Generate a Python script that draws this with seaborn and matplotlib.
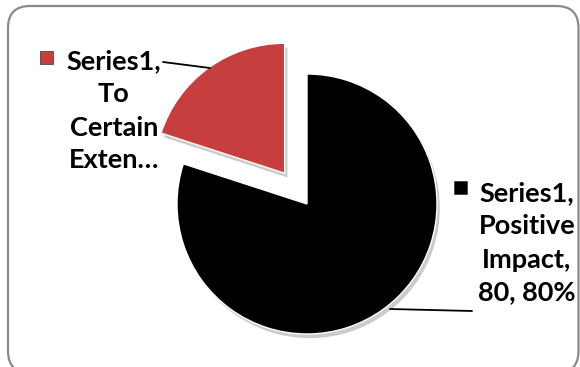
import matplotlib
matplotlib.use("Agg")
import matplotlib.pyplot as plt
import matplotlib.patheffects as pe
from matplotlib.patches import FancyBboxPatch, Rectangle
import seaborn as sns

# Survey responses (Series1)
categories = ["To Certain Extent", "Positive Impact"]
values = [20, 80]
short_labels = ["Series1,\nTo\nCertain\nExten\u2026", "Series1,\nPositive\nImpact,\n80, 80%"]
colors = ["#C63E3D", "#000000"]

sns.set_theme(style="white")
plt.rcParams["font.family"] = ["Lato", "DejaVu Sans"]

W, H = 580, 367
fig = plt.figure(figsize=(W / 100, H / 100), dpi=100)
ax = fig.add_axes([0, 0, 1, 1])

# rounded chart frame (bottom edge runs just past the canvas)
frame = FancyBboxPatch((8, -6), 570.5, 367, boxstyle="round,pad=0,rounding_size=22",
                       facecolor="white", edgecolor="#8a8a8a", linewidth=1.6, zorder=0)
ax.add_patch(frame)

center = (307, 163)
radius = 130
wedges, _ = ax.pie(values, colors=colors, startangle=90, counterclock=True,
                   explode=[38, 0], center=center, radius=radius, frame=True)
for w in wedges:
    w.set_zorder(2)
    w.set_path_effects([pe.SimplePatchShadow(offset=(2, -3), alpha=0.3, shadow_rgbFace="#555555"),
                        pe.Normal()])
ax.set_xlim(0, W)
ax.set_ylim(0, H)
ax.set_aspect("equal")
ax.axis("off")

# data labels
label_pos = [(114, H - 111), (527, H - 243)]
marker_pos = [(46, H - 57), (460, H - 187)]
leaders = [((163, 210), (H - 62, H - 68)), ((390, 472), (H - 309, H - 311))]
for lbl, (tx, ty), (mx, my), (lx, ly), c in zip(short_labels, label_pos, marker_pos, leaders, colors):
    ax.text(tx, ty, lbl, ha="center", va="center", fontsize=19.5, fontweight="bold",
            color="black", linespacing=1.45, zorder=5)
    ax.add_patch(Rectangle((mx - 6.5, my - 6.5), 13, 13, facecolor=c, edgecolor="#333333",
                           linewidth=0.5, zorder=5))
    ax.plot(lx, ly, color="black", linewidth=1.3, zorder=4)

fig.savefig("out.png", dpi=100)
